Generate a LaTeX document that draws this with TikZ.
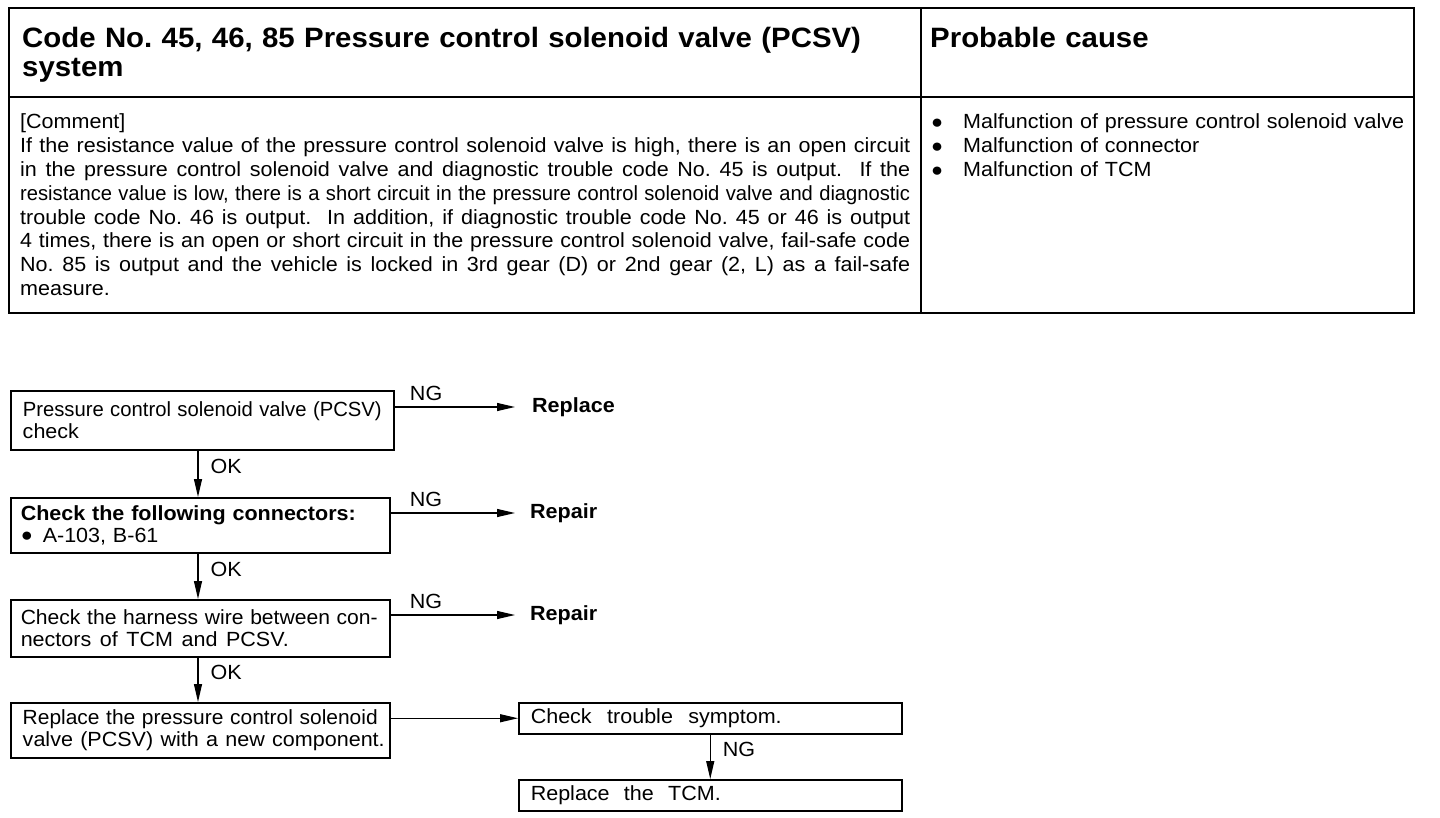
\documentclass[tikz,border=0pt]{standalone}
\usepackage{fontspec}
\setmainfont[FakeStretch=1.05]{Liberation Sans}
\usepackage{graphicx}
\usetikzlibrary{arrows.meta,calc}
\frenchspacing
\newsavebox\fitbox
\newcommand\sps{\spaceskip=0.28em plus 1em minus 0.12em\xspaceskip=\spaceskip}
\newcommand\fitline[2]{\sbox\fitbox{#2}\ifdim\wd\fitbox>#1\relax\resizebox{#1}{\height}{\usebox\fitbox}\else\makebox[#1][s]{\sps #2}\fi}
\newcommand\bodyf{\fontsize{20.5}{23.8}\selectfont}
\newcommand\boxf{\fontsize{20.5}{21.5}\selectfont}
\newcommand\bul{\raisebox{0.5pt}{\fontsize{19}{19}\selectfont ●}}
\begin{document}
\begin{tikzpicture}[x=1pt,y=-1pt,
  tbl/.style={line width=2.2pt},
  txt/.style={inner sep=0pt, align=left},
  fc/.style={draw, line width=1.5pt, anchor=north west, inner xsep=10pt, inner ysep=0pt, align=left, font=\boxf},
  lbl/.style={inner sep=0pt, anchor=west, font=\boxf\bfseries},
  arr/.style={line width=1.2pt, -{Triangle[length=18pt,width=8pt]}},
  ngl/.style={inner sep=0pt, anchor=south, font=\boxf, yshift=6pt},
  okl/.style={inner sep=0pt, anchor=west, font=\boxf, xshift=12pt, yshift=7pt}]
\useasboundingbox (0,0) rectangle (1440,818);
\fill[white] (0,0) rectangle (1440,818);
% table
\draw[tbl] (9,8) rectangle (1414,313);
\draw[tbl] (9,97) -- (1414,97);
\draw[tbl] (921,8) -- (921,313);
\node[txt, anchor=base west, text width=880pt, font=\fontsize{28}{29}\selectfont\bfseries] (title) at (22,48)
  {Code No. 45, 46, 85 Pressure control solenoid valve (PCSV)\\system};
\node[txt, anchor=base west, text width=470pt, font=\fontsize{28}{29}\selectfont\bfseries] (cause) at (930,48) {Probable cause};
\node[txt, anchor=base west, text width=890pt, font=\bodyf] (comment) at (20,129)
  {[Comment]\\
   \fitline{890pt}{If the resistance value of the pressure control solenoid valve is high, there is an open circuit}\\
   \fitline{890pt}{in the pressure control solenoid valve and diagnostic trouble code No. 45 is output. \ If the}\\
   \fitline{890pt}{resistance value is low, there is a short circuit in the pressure control solenoid valve and diagnostic}\\
   \fitline{890pt}{trouble code No. 46 is output. \ In addition, if diagnostic trouble code No. 45 or 46 is output}\\
   \fitline{890pt}{4 times, there is an open or short circuit in the pressure control solenoid valve, fail-safe code}\\
   \fitline{890pt}{No. 85 is output and the vehicle is locked in 3rd gear (D) or 2nd gear (2, L) as a fail-safe}\\
   measure.};
\node[txt, anchor=base west, text width=475pt, font=\bodyf] (causes) at (931,129)
  {\makebox[32pt][l]{\bul}Malfunction of pressure control solenoid valve\\
   \makebox[32pt][l]{\bul}Malfunction of connector\\
   \makebox[32pt][l]{\bul}Malfunction of TCM};
% flowchart boxes
\node[fc, inner xsep=12pt, text width=359pt, minimum width=383pt, minimum height=59pt] (b1) at (10,390)
  {\fitline{359pt}{Pressure control solenoid valve (PCSV)}\\check};
\node[fc, text width=359pt, minimum width=379pt, minimum height=55pt] (b2) at (10,497)
  {\textbf{Check the following connectors:}\\\makebox[22pt][l]{\bul}A-103, B-61};
\node[fc, text width=359pt, minimum width=379pt, minimum height=57pt] (b3) at (10,599)
  {\fitline{357pt}{Check the harness wire between con-}\\\fitline{268pt}{nectors of TCM and PCSV.}};
\node[fc, inner xsep=12pt, text width=355pt, minimum width=379pt, minimum height=55pt] (b4) at (10,702)
  {\fitline{355pt}{Replace the pressure control solenoid}\\\fitline{362pt}{valve (PCSV) with a new component.}};
\node[fc, inner xsep=12pt, text width=359pt, minimum width=383pt, minimum height=31pt] (b5) at (518,702)
  {\fitline{251pt}{Check trouble symptom.}};
\node[fc, inner xsep=12pt, text width=359pt, minimum width=383pt, minimum height=31pt] (b6) at (518,779)
  {\fitline{190pt}{Replace the TCM.}};
% result labels
\node[lbl] (rep1) at (532,407) {Replace};
\node[lbl] (rep2) at (530,513) {Repair};
\node[lbl] (rep3) at (530,615) {Repair};
\coordinate (ax) at (198,0);
% connectors
\draw[arr, shorten >=17pt] (b1.east |- rep1.west) -- node[ngl, pos=0.23] {NG} (rep1.west);
\draw[arr, shorten >=15pt] (b2.east |- rep2.west) -- node[ngl, pos=0.255] {NG} (rep2.west);
\draw[arr, shorten >=15pt] (b3.east |- rep3.west) -- node[ngl, pos=0.255] {NG} (rep3.west);
\draw[arr] (b1.south -| ax) -- node[okl] {OK} (b2.north -| ax);
\draw[arr] (b2.south -| ax) -- node[okl] {OK} (b3.north -| ax);
\draw[arr] (b3.south -| ax) -- node[okl] {OK} (b4.north -| ax);
\draw[arr] (b4.east |- b5.west) -- (b5.west);
\draw[arr] (b5.south) -- node[okl] {NG} (b6.north);
\end{tikzpicture}
\end{document}
